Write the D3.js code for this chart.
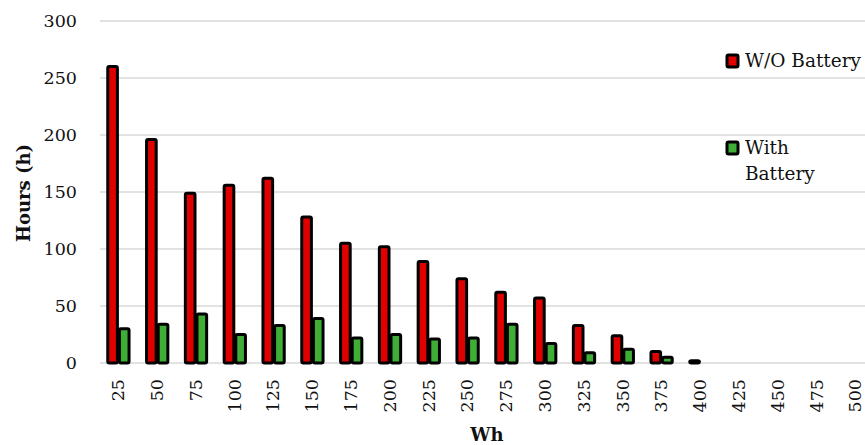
<!DOCTYPE html>
<html>
<head>
<meta charset="utf-8">
<script src="https://cdn.jsdelivr.net/npm/d3@7"></script>
<style>
  body { margin: 0; background: #fff; }
  text { font-family: "DejaVu Serif", serif; fill: #111; }
</style>
</head>
<body>
<svg width="865" height="445"></svg>
<script>
// data
const categories = ["25","50","75","100","125","150","175","200","225","250",
                    "275","300","325","350","375","400","425","450","475","500"];
const withoutBattery = [260,196,149,156,162,128,105,102,89,74,62,57,33,24,10,2,0,0,0,0];
const withBattery = [30,34,43,25,33,39,22,25,21,22,34,17,9,12,5,0,0,0,0,0];
const seriesNames = ["W/O Battery", "With Battery"];
const seriesColors = ["#e00000", "#3fae37"];
const yTicks = [0,50,100,150,200,250,300];

const svg = d3.select("svg");
const mLeft = 99, mRight = 875, mTop = 21, mBottom = 363;

const x0 = d3.scaleBand()
  .domain(categories)
  .range([mLeft, mRight])
  .paddingInner(0.4)
  .paddingOuter(0.2);

const x1 = d3.scaleBand()
  .domain([0, 1])
  .range([0, x0.bandwidth()]);

const y = d3.scaleLinear().domain([0, 300]).range([mBottom, mTop]);

// gridlines
svg.append("g")
  .selectAll("line")
  .data(yTicks)
  .enter()
  .append("line")
  .attr("x1", 100)
  .attr("x2", 865)
  .attr("y1", (d) => y(d))
  .attr("y2", (d) => y(d))
  .attr("stroke", "#d9d9d9")
  .attr("stroke-width", 1.5);

// y tick labels
svg.append("g")
  .selectAll("text")
  .data(yTicks)
  .enter()
  .append("text")
  .attr("x", 77)
  .attr("y", (d) => y(d))
  .attr("dy", "0.35em")
  .attr("text-anchor", "end")
  .style("font-size", "17.5px")
  .text((d) => d);

// bars
const rows = categories.map((c, i) => ({ c, vals: [withoutBattery[i], withBattery[i]] }));

const group = svg.append("g")
  .selectAll("g")
  .data(rows)
  .enter()
  .append("g")
  .attr("transform", (d) => `translate(${x0(d.c)},0)`);

group.selectAll("rect")
  .data((d) => d.vals.map((v, k) => ({ v, k })).filter((e) => e.v > 0))
  .enter()
  .append("rect")
  .attr("x", (d) => x1(d.k) + 1)
  .attr("width", x1.bandwidth() - 2)
  .attr("y", (d) => y(d.v))
  .attr("height", (d) => y(0) - y(d.v))
  .attr("rx", 1.5)
  .attr("fill", (d) => seriesColors[d.k])
  .attr("stroke", "#000")
  .attr("stroke-width", 3);

// x tick labels (rotated)
svg.append("g")
  .selectAll("text")
  .data(categories)
  .enter()
  .append("text")
  .attr("transform", (d) => `translate(${x0(d) + x0.bandwidth() / 2},379) rotate(-90)`)
  .attr("dy", "0.33em")
  .attr("text-anchor", "end")
  .style("font-size", "17.5px")
  .text((d) => d);

// axis titles
svg.append("text")
  .attr("transform", "translate(24,193) rotate(-90)")
  .attr("text-anchor", "middle")
  .attr("dy", "0.35em")
  .style("font-size", "18px")
  .style("font-weight", "bold")
  .text("Hours (h)");

svg.append("text")
  .attr("x", 487)
  .attr("y", 441)
  .attr("text-anchor", "middle")
  .style("font-size", "18px")
  .style("font-weight", "bold")
  .text("Wh");

// legend
const legend = [
  { name: seriesNames[0], color: seriesColors[0], base: 67, lines: ["W/O Battery"] },
  { name: seriesNames[1], color: seriesColors[1], base: 154, lines: ["With", "Battery"] }
];

const lg = svg.append("g")
  .selectAll("g")
  .data(legend)
  .enter()
  .append("g");

lg.append("rect")
  .attr("x", 727)
  .attr("y", (d) => d.base - 12)
  .attr("width", 11)
  .attr("height", 12)
  .attr("rx", 1.5)
  .attr("fill", (d) => d.color)
  .attr("stroke", "#000")
  .attr("stroke-width", 3);

lg.each(function (d) {
  const t = d3.select(this).append("text")
    .attr("x", 745)
    .attr("y", d.base)
    .style("font-size", "18.5px");
  d.lines.forEach((l, i) => {
    t.append("tspan").attr("x", 745).attr("dy", i === 0 ? 0 : 26).text(l);
  });
});
</script>
</body>
</html>
